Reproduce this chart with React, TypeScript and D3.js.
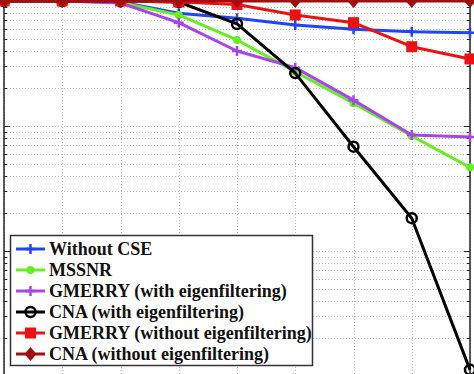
import React, { useEffect, useRef } from 'react';
import * as d3 from 'd3';

// x positions (SNR steps, axis labels are cropped in the reference)
const steps = [1, 2, 3, 4, 5, 6, 7, 8, 9];

const withoutCSE = [1, 1, 0.98, 0.797, 0.727, 0.643, 0.594, 0.568, 0.558];
const mssnr = [1, 1, 0.973, 0.773, 0.488, 0.272, 0.152, 0.0832, 0.0467];
const gmerryWith = [1, 1, 0.964, 0.671, 0.398, 0.293, 0.161, 0.0847, 0.0817];
const cnaWith = [1, 1, 1, 0.982, 0.655, 0.265, 0.0683, 0.0183, 0.00112];
const gmerryWithout = [1, 1, 1, 0.982, 0.938, 0.773, 0.671, 0.431, 0.344];
const cnaWithout = [1, 1, 1, 1, 1, 1, 1, 1, 1];

const seriesNames = [
  'Without CSE',
  'MSSNR',
  'GMERRY (with eigenfiltering)',
  'CNA (with eigenfiltering)',
  'GMERRY (without eigenfiltering)',
  'CNA (without eigenfiltering)',
];
const seriesValues = [withoutCSE, mssnr, gmerryWith, cnaWith, gmerryWithout, cnaWithout];
const seriesColors = ['#2244ff', '#66ee22', '#a844ee', '#000000', '#ee1111', '#a01010'];
const seriesMarkers = ['plus', 'dot', 'plus', 'circle', 'square', 'diamond'];

const App: React.FC = () => {
  const svgRef = useRef<SVGSVGElement | null>(null);

  useEffect(() => {
    const width = 474;
    const height = 374;
    const svg = d3.select(svgRef.current);
    svg.selectAll('*').remove();
    svg.attr('width', width).attr('height', height);

    const left = 4, right = 470, top = 1;
    const x = d3.scaleLinear().domain([1, 9]).range([left, right]);
    const y = d3.scaleLog().domain([1e-3, 1]).range([376, top]);

    svg.append('rect').attr('width', width).attr('height', height).attr('fill', '#fff');

    const yTicks = y.ticks();
    // grid
    const grid = svg.append('g').attr('stroke', '#b8b8b8').attr('stroke-width', 1).attr('stroke-dasharray', '1,2');
    grid.selectAll('line.h')
      .data(yTicks)
      .enter()
      .append('line')
      .attr('x1', left).attr('x2', right)
      .attr('y1', (d) => Math.round(y(d)) + 0.5).attr('y2', (d) => Math.round(y(d)) + 0.5);
    grid.selectAll('line.v')
      .data(steps)
      .enter()
      .append('line')
      .attr('x1', (d) => Math.round(x(d)) + 0.5).attr('x2', (d) => Math.round(x(d)) + 0.5)
      .attr('y1', top).attr('y2', height);

    // axes frame + inward ticks
    const ax = svg.append('g').attr('stroke', '#222').attr('stroke-width', 1.5);
    ax.append('line').attr('x1', left).attr('x2', left).attr('y1', 0).attr('y2', height);
    ax.append('line').attr('x1', right).attr('x2', right).attr('y1', 0).attr('y2', height);
    ax.append('line').attr('x1', left).attr('x2', right).attr('y1', top).attr('y2', top);
    yTicks.forEach((t) => {
      const major = Math.abs(Math.log10(t) - Math.round(Math.log10(t))) < 1e-6;
      const len = major ? 6 : 3;
      const yy = Math.round(y(t)) + 0.5;
      ax.append('line').attr('x1', left).attr('x2', left + len).attr('y1', yy).attr('y2', yy).attr('stroke-width', 1);
      ax.append('line').attr('x1', right).attr('x2', right - len).attr('y1', yy).attr('y2', yy).attr('stroke-width', 1);
    });

    const drawMarker = (g: d3.Selection<SVGGElement, unknown, null, undefined>, kind: string, cx: number, cy: number, color: string) => {
      if (kind === 'plus') {
        g.append('path').attr('d', `M${cx - 5},${cy}H${cx + 5}M${cx},${cy - 5}V${cy + 5}`)
          .attr('stroke', color).attr('stroke-width', 2.5).attr('fill', 'none');
      } else if (kind === 'dot') {
        g.append('circle').attr('cx', cx).attr('cy', cy).attr('r', 4).attr('fill', color);
      } else if (kind === 'circle') {
        g.append('circle').attr('cx', cx).attr('cy', cy).attr('r', 5).attr('fill', 'none')
          .attr('stroke', color).attr('stroke-width', 2.5);
      } else if (kind === 'square') {
        g.append('rect').attr('x', cx - 5.5).attr('y', cy - 5.5).attr('width', 11).attr('height', 11).attr('fill', color);
      } else if (kind === 'diamond') {
        g.append('path').attr('d', `M${cx},${cy - 7}L${cx + 6},${cy}L${cx},${cy + 7}L${cx - 6},${cy}Z`).attr('fill', color);
      }
    };

    const line = d3.line<number>().x((_, i) => x(steps[i])).y((d) => y(d));
    seriesValues.forEach((vals, si) => {
      const g = svg.append('g');
      g.append('path').datum(vals).attr('d', line).attr('fill', 'none')
        .attr('stroke', seriesColors[si]).attr('stroke-width', 3).attr('stroke-linejoin', 'round');
      vals.forEach((v, i) => drawMarker(g, seriesMarkers[si], x(steps[i]), y(v), seriesColors[si]));
    });

    // legend
    const lg = svg.append('g');
    lg.append('rect').attr('x', 10.5).attr('y', 235.5).attr('width', 302).attr('height', 130)
      .attr('fill', '#fff').attr('stroke', '#333').attr('stroke-width', 1.5);
    seriesNames.forEach((name, i) => {
      const cy = 249 + i * 21;
      const g = lg.append('g');
      g.append('line').attr('x1', 16).attr('x2', 45).attr('y1', cy).attr('y2', cy)
        .attr('stroke', seriesColors[i]).attr('stroke-width', 3);
      drawMarker(g, seriesMarkers[i], 30.5, cy, seriesColors[i]);
      g.append('text').attr('x', 49).attr('y', cy + 6).text(name)
        .attr('font-family', '"Liberation Serif", "Times New Roman", serif')
        .attr('font-weight', 'bold').attr('font-size', 18).attr('fill', '#111');
    });
  }, []);

  return <svg ref={svgRef} style={{ position: 'absolute', left: 0, top: 0 }}></svg>;
};

export default App;
